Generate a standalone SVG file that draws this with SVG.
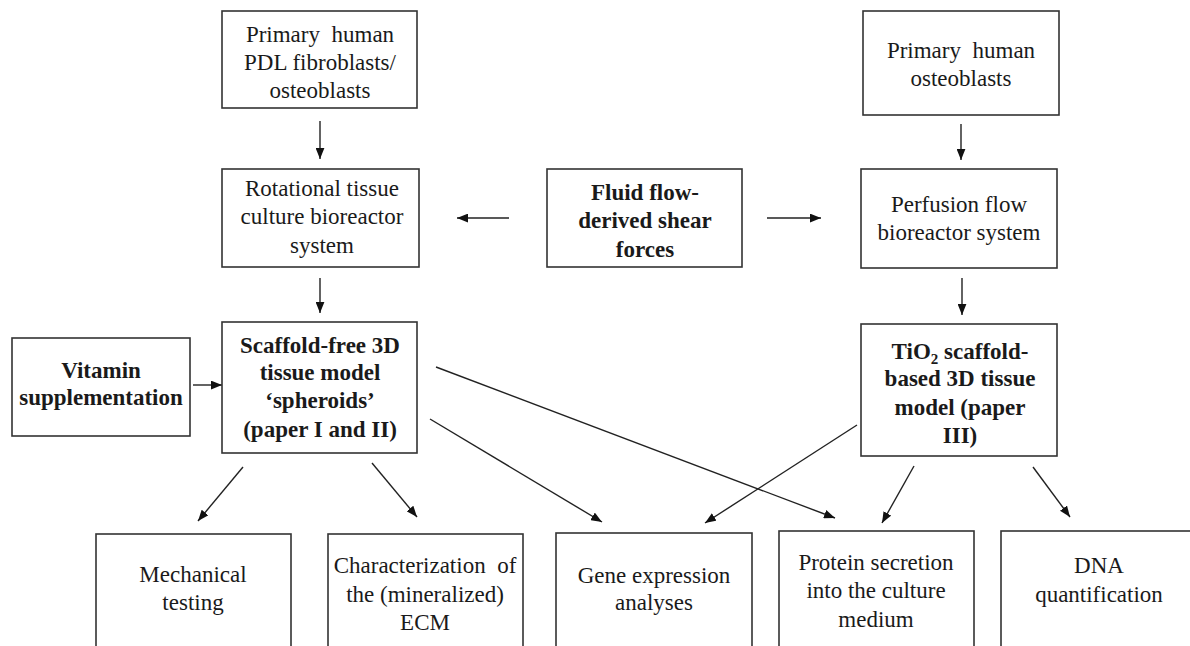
<svg xmlns="http://www.w3.org/2000/svg" width="1190" height="646" viewBox="0 0 1190 646">
<style>
.box{fill:#fff;stroke:#333;stroke-width:1.6}
.t{font-family:"Liberation Serif","Times New Roman",serif;font-size:23px;fill:#1a1a1a;text-anchor:middle}
.b{font-weight:bold}
.c{stroke:#222;stroke-width:1.4;fill:none;marker-end:url(#ah)}
</style>
<defs>
<marker id="ah" viewBox="0 0 10 8" refX="10" refY="4" markerWidth="11" markerHeight="9" orient="auto" markerUnits="userSpaceOnUse">
<path d="M0,0 L10,4 L0,8 Z" fill="#111"/>
</marker>
</defs>
<rect width="1190" height="646" fill="#fff"/>
<g id="connectors">
<line class="c" x1="320" y1="121" x2="320" y2="159"/>
<line class="c" x1="961" y1="124" x2="961" y2="160"/>
<line class="c" x1="320" y1="278" x2="320" y2="313"/>
<line class="c" x1="962" y1="278" x2="962" y2="315"/>
<line class="c" x1="509" y1="218" x2="457" y2="218"/>
<line class="c" x1="767" y1="218" x2="821" y2="218"/>
<line class="c" x1="193" y1="385" x2="222" y2="385"/>
<line class="c" x1="243" y1="467" x2="198" y2="521"/>
<line class="c" x1="372" y1="463" x2="417" y2="517"/>
<line class="c" x1="430" y1="419" x2="602" y2="522"/>
<line class="c" x1="436" y1="367" x2="835" y2="518"/>
<line class="c" x1="857" y1="425" x2="705" y2="523"/>
<line class="c" x1="914" y1="466" x2="882" y2="523"/>
<line class="c" x1="1033" y1="467" x2="1070" y2="517"/>
</g>
<g id="n-pdl">
<rect class="box" x="222" y="11" width="195" height="97"/>
<text class="t" x="320" y="42">Primary&#160; human</text>
<text class="t" x="320" y="70">PDL fibroblasts/</text>
<text class="t" x="320" y="98">osteoblasts</text>
</g>
<g id="n-osteo">
<rect class="box" x="863" y="11" width="196" height="104"/>
<text class="t" x="961" y="58">Primary&#160; human</text>
<text class="t" x="961" y="86">osteoblasts</text>
</g>
<g id="n-rot">
<rect class="box" x="222" y="169" width="197" height="98"/>
<text class="t" x="322" y="196">Rotational tissue</text>
<text class="t" x="322" y="224">culture bioreactor</text>
<text class="t" x="322" y="253">system</text>
</g>
<g id="n-fluid">
<rect class="box" x="547" y="169" width="195" height="98"/>
<text class="t b" x="645" y="200">Fluid flow-</text>
<text class="t b" x="645" y="228">derived shear</text>
<text class="t b" x="645" y="257">forces</text>
</g>
<g id="n-perf">
<rect class="box" x="861" y="169" width="196" height="99"/>
<text class="t" x="959" y="212">Perfusion flow</text>
<text class="t" x="959" y="240">bioreactor system</text>
</g>
<g id="n-vit">
<rect class="box" x="12" y="338" width="178" height="98"/>
<text class="t b" x="101" y="378">Vitamin</text>
<text class="t b" x="101" y="405">supplementation</text>
</g>
<g id="n-scaf">
<rect class="box" x="222" y="322" width="195" height="131"/>
<text class="t b" x="320" y="353">Scaffold-free 3D</text>
<text class="t b" x="320" y="380">tissue model</text>
<text class="t b" x="320" y="408">‘spheroids’</text>
<text class="t b" x="320" y="437">(paper I and II)</text>
</g>
<g id="n-tio2">
<rect class="box" x="861" y="324" width="196" height="132"/>
<text class="t b" x="960" y="359">TiO<tspan font-size="15" dy="5">2</tspan><tspan dy="-5"> scaffold-</tspan></text>
<text class="t b" x="960" y="386">based 3D tissue</text>
<text class="t b" x="960" y="415">model (paper</text>
<text class="t b" x="960" y="443">III)</text>
</g>
<g id="n-mech">
<rect class="box" x="96" y="534" width="195" height="130"/>
<text class="t" x="193" y="582">Mechanical</text>
<text class="t" x="193" y="610">testing</text>
</g>
<g id="n-ecm">
<rect class="box" x="328" y="534" width="195" height="130"/>
<text class="t" x="425" y="573">Characterization&#160; of</text>
<text class="t" x="425" y="602">the (mineralized)</text>
<text class="t" x="425" y="630">ECM</text>
</g>
<g id="n-gene">
<rect class="box" x="556" y="533" width="196" height="130"/>
<text class="t" x="654" y="583">Gene expression</text>
<text class="t" x="654" y="610">analyses</text>
</g>
<g id="n-prot">
<rect class="box" x="779" y="531" width="195" height="130"/>
<text class="t" x="876" y="570">Protein secretion</text>
<text class="t" x="876" y="598">into the culture</text>
<text class="t" x="876" y="627">medium</text>
</g>
<g id="n-dna">
<rect class="box" x="1001" y="531" width="196" height="130"/>
<text class="t" x="1099" y="573">DNA</text>
<text class="t" x="1099" y="602">quantification</text>
</g>
</svg>
